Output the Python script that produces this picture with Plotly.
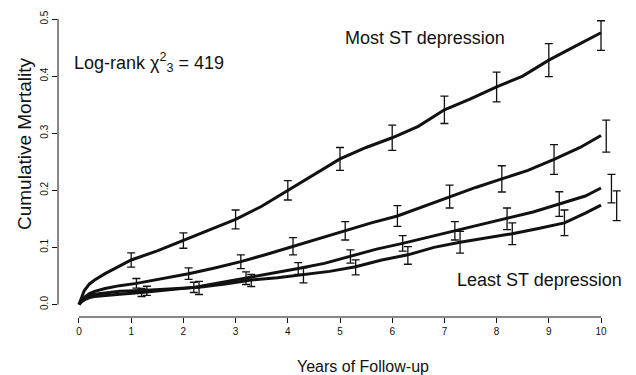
import plotly.graph_objects as go

# ---- data ----
# Curve 1: Most ST depression
t1 = [0, 0.05, 0.1, 0.2, 0.3, 0.5, 0.75, 1.0, 1.5, 2.0, 2.5, 3.0, 3.5, 4.0, 4.5, 5.0,
      5.5, 6.0, 6.5, 7.0, 7.5, 8.0, 8.5, 9.0, 9.5, 10.0]
v1 = [0, 0.014, 0.024, 0.036, 0.043, 0.054, 0.066, 0.078, 0.094, 0.112, 0.130, 0.149, 0.172, 0.200,
      0.228, 0.255, 0.275, 0.292, 0.312, 0.341, 0.360, 0.381, 0.400, 0.428, 0.452, 0.476]
# Curve 2
t2 = [0, 0.05, 0.1, 0.2, 0.3, 0.5, 0.78, 1.1, 1.6, 2.1, 2.6, 3.1, 3.6, 4.1, 4.6, 5.1,
      5.6, 6.1, 6.6, 7.1, 7.6, 8.1, 8.6, 9.1, 9.6, 10.0]
v2 = [0, 0.007, 0.012, 0.019, 0.023, 0.028, 0.033, 0.037, 0.045, 0.054, 0.064, 0.075, 0.088, 0.102,
      0.115, 0.129, 0.143, 0.155, 0.172, 0.189, 0.205, 0.220, 0.235, 0.254, 0.275, 0.296]
# Curve 3
t3 = [0, 0.05, 0.1, 0.2, 0.3, 0.5, 0.78, 1.2, 1.7, 2.2, 2.7, 3.2, 3.7, 4.2, 4.7, 5.2,
      5.7, 6.2, 6.7, 7.2, 7.7, 8.2, 8.7, 9.2, 9.7, 10.0]
v3 = [0, 0.005, 0.008, 0.012, 0.014, 0.016, 0.018, 0.021, 0.025, 0.030, 0.038, 0.046, 0.054, 0.063,
      0.072, 0.084, 0.097, 0.107, 0.118, 0.129, 0.140, 0.150, 0.162, 0.176, 0.190, 0.204]
# Curve 4: Least ST depression
t4 = [0, 0.05, 0.1, 0.2, 0.3, 0.5, 0.78, 1.3, 1.8, 2.3, 2.8, 3.3, 3.8, 4.3, 4.8, 5.3,
      5.8, 6.3, 6.8, 7.3, 7.8, 8.3, 8.8, 9.3, 9.7, 10.0]
v4 = [0, 0.007, 0.011, 0.016, 0.018, 0.020, 0.023, 0.025, 0.027, 0.030, 0.036, 0.043, 0.047, 0.052,
      0.058, 0.066, 0.078, 0.087, 0.100, 0.109, 0.116, 0.124, 0.133, 0.143, 0.160, 0.174]

bar_years = [1, 2, 3, 4, 5, 6, 7, 8, 9, 10]
bar1 = [0.078, 0.112, 0.149, 0.200, 0.255, 0.292, 0.341, 0.381, 0.428, 0.471]
err1 = [0.0125, 0.0135, 0.0165, 0.017, 0.020, 0.022, 0.024, 0.026, 0.029, 0.026]
bar2 = [0.037, 0.054, 0.075, 0.102, 0.129, 0.155, 0.189, 0.220, 0.254, 0.295]
err2 = [0.0085, 0.010, 0.012, 0.015, 0.016, 0.018, 0.020, 0.023, 0.026, 0.028]
bar3 = [0.021, 0.030, 0.046, 0.063, 0.084, 0.107, 0.129, 0.150, 0.176, 0.203]
err3 = [0.007, 0.009, 0.011, 0.0105, 0.0115, 0.0135, 0.016, 0.019, 0.0215, 0.025]
bar4 = [0.024, 0.029, 0.042, 0.051, 0.065, 0.086, 0.109, 0.124, 0.143, 0.173]
err4 = [0.008, 0.0115, 0.0105, 0.013, 0.013, 0.0155, 0.019, 0.019, 0.0225, 0.026]

x_ticks = [0, 1, 2, 3, 4, 5, 6, 7, 8, 9, 10]
y_ticks = [0.0, 0.1, 0.2, 0.3, 0.4, 0.5]
y_ticktext = ["0.0", "0.1", "0.2", "0.3", "0.4", "0.5"]

FONT = "Liberation Sans, Arial, Helvetica, sans-serif"
INK = "#111111"

fig = go.Figure()
curves = [(t1, v1), (t2, v2), (t3, v3), (t4, v4)]
for t, v in curves:
    fig.add_trace(go.Scatter(x=t, y=v, mode="lines",
                             line=dict(color=INK, width=3), showlegend=False,
                             hoverinfo="skip"))

bars = [(bar1, err1, 0.0), (bar2, err2, 0.1), (bar3, err3, 0.2), (bar4, err4, 0.3)]
for b, e, off in bars:
    fig.add_trace(go.Scatter(x=[y + off for y in bar_years], y=b, mode="markers",
                             marker=dict(size=1, color="rgba(0,0,0,0)"),
                             error_y=dict(type="data", array=e, symmetric=True,
                                          color=INK, thickness=1.3, width=4),
                             showlegend=False, hoverinfo="skip"))

fig.update_layout(
    width=636, height=375,
    margin=dict(l=58, r=14, t=8, b=58),
    paper_bgcolor="white", plot_bgcolor="white",
    font=dict(family=FONT, color=INK),
    xaxis=dict(range=[-0.402, 10.402], tickvals=x_ticks, ticks="outside", ticklen=5,
               tickwidth=1, tickcolor=INK, showline=False, showgrid=False, zeroline=False,
               tickfont=dict(size=10, family=FONT, color=INK)),
    yaxis=dict(range=[-0.0219, 0.5193], tickvals=y_ticks, ticktext=y_ticktext,
               ticks="outside", ticklen=5, tickwidth=1, tickcolor=INK, tickangle=-90,
               showline=False, showgrid=False, zeroline=False,
               tickfont=dict(size=10, family=FONT, color=INK)),
    shapes=[
        dict(type="line", xref="x", yref="paper", x0=0, x1=10, y0=0, y1=0,
             line=dict(color=INK, width=1)),
        dict(type="line", xref="paper", yref="y", x0=0, x1=0, y0=0, y1=0.5,
             line=dict(color=INK, width=1)),
    ],
    annotations=[
        dict(text="Cumulative Mortality", xref="paper", yref="paper", x=-0.0603, y=0.563,
             textangle=-90, showarrow=False, xanchor="center", yanchor="middle",
             font=dict(size=19, family=FONT, color=INK)),
        dict(text="Years of Follow-up", xref="paper", yref="paper", x=0.541, y=-0.1586,
             showarrow=False, xanchor="center", yanchor="middle",
             font=dict(size=16, family=FONT, color=INK)),
        dict(text="Log-rank χ<sup>2</sup><sub>3</sub> = 419", xref="x", yref="y",
             x=-0.14, y=0.423, showarrow=False, xanchor="left", yanchor="middle",
             font=dict(size=18, family=FONT, color=INK)),
        dict(text="Most ST depression", xref="x", yref="y", x=6.63, y=0.466,
             showarrow=False, xanchor="center", yanchor="middle",
             font=dict(size=18, family=FONT, color=INK)),
        dict(text="Least ST depression", xref="x", yref="y", x=8.83, y=0.0429,
             showarrow=False, xanchor="center", yanchor="middle",
             font=dict(size=18, family=FONT, color=INK)),
    ],
)

fig.write_html("out.html")
